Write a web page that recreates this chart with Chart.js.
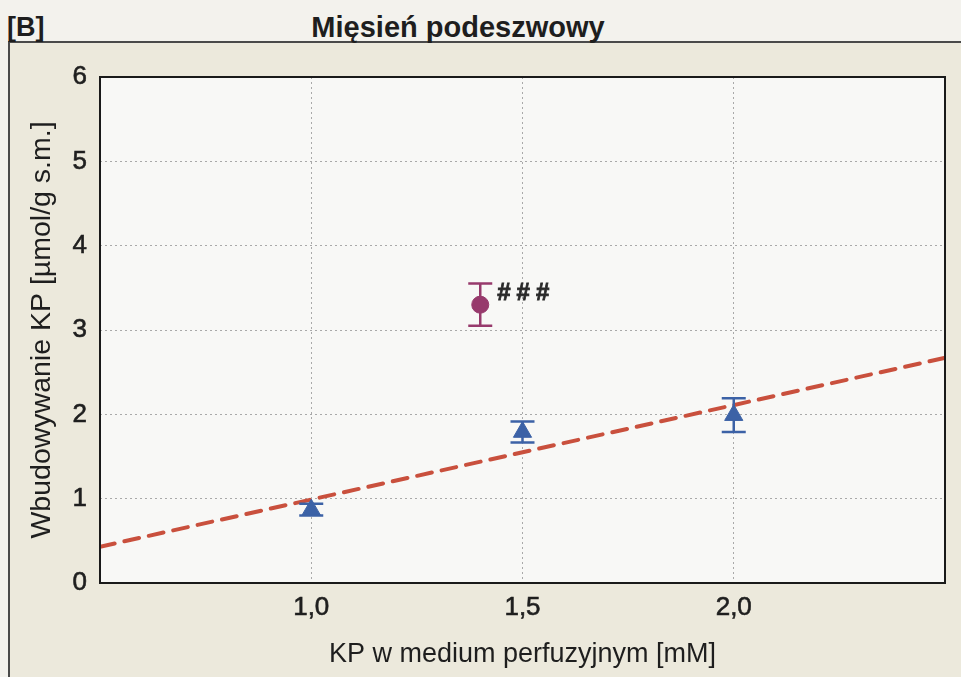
<!DOCTYPE html>
<html lang="pl">
<head>
<meta charset="utf-8">
<title>Mięsień podeszwowy</title>
<script src="https://cdn.jsdelivr.net/npm/chart.js@4.4.1/dist/chart.umd.min.js"></script>
<style>
  html, body { margin: 0; padding: 0; }
  body { width: 961px; height: 677px; background: #f3f2ed; position: relative; overflow: hidden;
         font-family: "Liberation Sans", Arial, sans-serif; }
  #frame { position: absolute; left: 8px; top: 41px; width: 970px; height: 660px;
           border: 2px solid #4a4a4a; background: #ece9dc; box-sizing: border-box; }
  .head { position: absolute; top: 13px; font-weight: bold; font-size: 29px; line-height: 29px;
          color: #1e1e1e; white-space: nowrap; }
  #tag { left: 7px; font-size: 27px; }
  #title { left: 458px; transform: translateX(-50%); }
  #wrap { position: absolute; left: 0; top: 0; width: 961px; height: 677px; }
</style>
</head>
<body>
<div id="frame"></div>
<div class="head" id="tag">[B]</div>
<div class="head" id="title">Mięsień podeszwowy</div>
<div id="wrap"><canvas id="chart"></canvas></div>
<script>
document.addEventListener('DOMContentLoaded', function() {
    // KP concentration in perfusion medium [mM] and uptake [µmol/g s.m.]
    const groupX = [1.0, 1.5, 2.0];
    const groupY = [0.87, 1.79, 1.99];
    const groupErr = [0.07, 0.125, 0.2];

    const extraX = [1.4];
    const extraY = [3.30];
    const extraErr = [0.25];
    const extraNote = '###';

    // linear fit through the group means
    const fitX = [0.5, 2.5];
    const fitY = [0.43, 2.67];

    const xTicks = [1.0, 1.5, 2.0];
    const yTicks = [0, 1, 2, 3, 4, 5, 6];

    const blue = '#3c62a6';
    const plum = '#973a6c';
    const red = '#c9503d';
    const ink = '#1e1e1e';
    const family = '"Liberation Sans", Arial, sans-serif';
    const tickFont = { family: family, size: 26 };

    const toPoints = (xs, ys) => xs.map((x, i) => ({ x: x, y: ys[i] }));

    // plot background, frame, error bars and the significance mark
    const decor = {
        id: 'decor',
        beforeDraw(chart) {
            const { ctx, chartArea: a } = chart;
            ctx.save();
            ctx.fillStyle = '#f8f8f6';
            ctx.fillRect(a.left, a.top, a.right - a.left, a.bottom - a.top);
            ctx.restore();
        },
        afterDatasetsDraw(chart) {
            const { ctx, chartArea: a, scales } = chart;
            const sx = scales.x, sy = scales.y;
            ctx.save();
            ctx.lineWidth = 2.5;
            function bars(xs, ys, errs, color) {
                ctx.strokeStyle = color;
                xs.forEach((x, i) => {
                    const px = sx.getPixelForValue(x);
                    const top = sy.getPixelForValue(ys[i] + errs[i]);
                    const bot = sy.getPixelForValue(ys[i] - errs[i]);
                    ctx.beginPath();
                    ctx.moveTo(px, top); ctx.lineTo(px, bot);
                    ctx.moveTo(px - 12, top); ctx.lineTo(px + 12, top);
                    ctx.moveTo(px - 12, bot); ctx.lineTo(px + 12, bot);
                    ctx.stroke();
                });
            }
            bars(groupX, groupY, groupErr, blue);
            bars(extraX, extraY, extraErr, plum);

            ctx.fillStyle = '#2a2a2a';
            ctx.strokeStyle = '#2a2a2a';
            ctx.lineWidth = 0.8;
            ctx.font = 'bold 24px ' + family;
            ctx.letterSpacing = '6px';
            ctx.textBaseline = 'middle';
            const nx = sx.getPixelForValue(extraX[0]) + 17;
            const ny = sy.getPixelForValue(extraY[0] + extraErr[0]) + 10;
            ctx.fillText(extraNote, nx, ny);
            ctx.strokeText(extraNote, nx, ny);
            ctx.letterSpacing = '0px';

            ctx.strokeStyle = '#1a1a1a';
            ctx.lineWidth = 2;
            ctx.strokeRect(a.left, a.top, a.right - a.left, a.bottom - a.top);
            ctx.restore();
        }
    };

    new Chart(document.getElementById('chart'), {
        type: 'scatter',
        data: {
            datasets: [
                {
                    type: 'line',
                    data: toPoints(fitX, fitY),
                    borderColor: red,
                    borderWidth: 4,
                    borderDash: [15, 10],
                    borderCapStyle: 'round',
                    pointRadius: 0,
                    fill: false,
                    order: 3
                },
                {
                    data: toPoints(groupX, groupY),
                    pointStyle: 'triangle',
                    pointRadius: 10.5,
                    backgroundColor: blue,
                    borderColor: blue,
                    borderWidth: 1,
                    order: 1
                },
                {
                    data: toPoints(extraX, extraY),
                    pointStyle: 'circle',
                    pointRadius: 8.5,
                    backgroundColor: plum,
                    borderColor: plum,
                    borderWidth: 1,
                    order: 2
                }
            ]
        },
        options: {
            responsive: true,
            maintainAspectRatio: false,
            animation: false,
            layout: { padding: { left: 0, top: 77, right: 16, bottom: 0 } },
            plugins: { legend: { display: false }, tooltip: { enabled: false } },
            scales: {
                x: {
                    type: 'linear',
                    min: 0.5,
                    max: 2.5,
                    afterBuildTicks: s => { s.ticks = xTicks.map(v => ({ value: v })); },
                    afterFit: s => { s.height = 94; },
                    ticks: {
                        padding: 9,
                        color: ink,
                        font: tickFont,
                        textStrokeColor: ink,
                        textStrokeWidth: 0.6,
                        callback: v => v.toFixed(1).replace('.', ',')
                    },
                    grid: { color: '#a9a9a9', drawTicks: false, lineWidth: 1 },
                    border: { display: false, dash: [2, 3] },
                    title: {
                        display: true,
                        text: 'KP w medium perfuzyjnym [mM]',
                        color: ink,
                        font: { family: family, size: 27 },
                        padding: { top: 0, bottom: 6 }
                    }
                },
                y: {
                    min: 0,
                    max: 6,
                    afterBuildTicks: s => { s.ticks = yTicks.map(v => ({ value: v })); },
                    afterFit: s => { s.width = 100; },
                    ticks: {
                        padding: 13,
                        color: ink,
                        font: tickFont,
                        textStrokeColor: ink,
                        textStrokeWidth: 0.6
                    },
                    grid: {
                        color: c => (c.tick.value === 0 || c.tick.value === 6) ? 'rgba(0,0,0,0)' : '#a9a9a9',
                        drawTicks: false,
                        lineWidth: 1
                    },
                    border: { display: false, dash: [2, 3] },
                    title: {
                        display: true,
                        text: 'Wbudowywanie KP [µmol/g s.m.]',
                        color: ink,
                        font: { family: family, size: 28.5 },
                        padding: { top: 25, bottom: 0 }
                    }
                }
            }
        },
        plugins: [decor]
    });
});
</script>
</body>
</html>
